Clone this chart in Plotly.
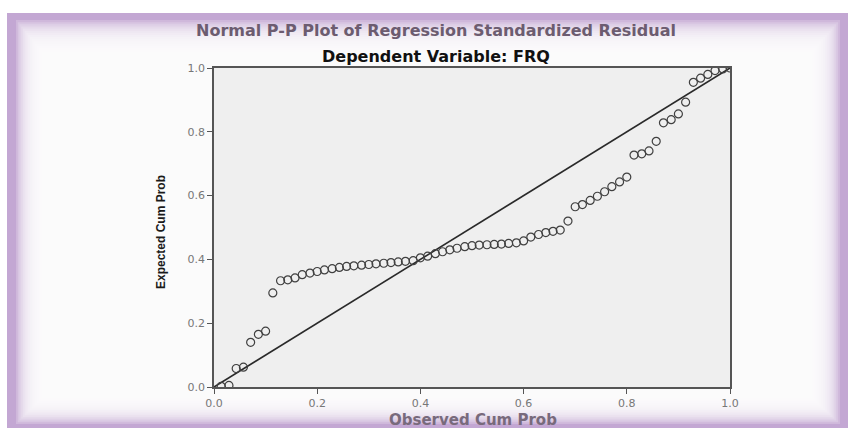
import plotly.graph_objects as go

# ---------------- data ----------------
observed_cum_prob = [
    0.014, 0.029, 0.043, 0.057, 0.071, 0.086, 0.100, 0.114, 0.129, 0.143,
    0.157, 0.171, 0.186, 0.200, 0.214, 0.229, 0.243, 0.257, 0.271, 0.286,
    0.300, 0.314, 0.329, 0.343, 0.357, 0.371, 0.386, 0.400, 0.414, 0.429,
    0.443, 0.457, 0.471, 0.486, 0.500, 0.514, 0.529, 0.543, 0.557, 0.571,
    0.586, 0.600, 0.614, 0.629, 0.643, 0.657, 0.671, 0.686, 0.700, 0.714,
    0.729, 0.743, 0.757, 0.771, 0.786, 0.800, 0.814, 0.829, 0.843, 0.857,
    0.871, 0.886, 0.900, 0.914, 0.929, 0.943, 0.957, 0.971, 0.986, 1.000,
]
expected_cum_prob = [
    0.002, 0.005, 0.058, 0.062, 0.140, 0.165, 0.175, 0.295, 0.333, 0.336,
    0.342, 0.352, 0.357, 0.362, 0.367, 0.371, 0.375, 0.378, 0.380, 0.382,
    0.384, 0.386, 0.388, 0.390, 0.392, 0.394, 0.396, 0.405, 0.410, 0.418,
    0.424, 0.430, 0.435, 0.440, 0.443, 0.445, 0.446, 0.447, 0.448, 0.450,
    0.452, 0.458, 0.470, 0.478, 0.484, 0.488, 0.492, 0.520, 0.565, 0.572,
    0.585, 0.598, 0.612, 0.628, 0.643, 0.658, 0.727, 0.731, 0.740, 0.770,
    0.828, 0.838, 0.856, 0.893, 0.955, 0.968, 0.980, 0.992, 0.997, 1.000,
]
reference_line = [0.0, 1.0]
tick_values = [0.0, 0.2, 0.4, 0.6, 0.8, 1.0]
tick_labels = ["0.0", "0.2", "0.4", "0.6", "0.8", "1.0"]

main_title = "Normal P-P Plot of Regression Standardized Residual"
sub_title = "Dependent Variable: FRQ"
x_title = "Observed Cum Prob"
y_title = "Expected Cum Prob"

# ---------------- layout geometry (pixels) ----------------
W, H = 853, 430
L, R, T, B = 214, 730, 68, 387  # plot area in pixels


def px(xp):
    return (xp - L) / (R - L)


def py(yp):
    return (B - yp) / (B - T)


fig = go.Figure()

fig.add_trace(go.Scatter(
    x=reference_line, y=reference_line, mode="lines",
    line=dict(color="#2a2a2a", width=1.6), hoverinfo="skip", showlegend=False,
))
fig.add_trace(go.Scatter(
    x=observed_cum_prob, y=expected_cum_prob, mode="markers",
    marker=dict(symbol="circle-open", size=8, color="#404040",
                line=dict(width=1.2, color="#404040")),
    showlegend=False,
))

shapes = []
# purple frame
purple = "#c3a7d3"
shapes.append(dict(type="rect", xref="paper", yref="paper", layer="below",
                   x0=px(7), x1=px(848), y0=py(13), y1=py(428),
                   fillcolor=purple, line=dict(width=0)))
# soft white glow inside frame
steps = 16
for k in range(steps):
    f = k / (steps - 1)
    lft = 16 + 26 * f
    top = 20 + 32 * f
    rgt = 840 - 28 * f
    bot = 424 - 26 * f
    shapes.append(dict(type="rect", xref="paper", yref="paper", layer="below",
                       x0=px(lft), x1=px(rgt), y0=py(top), y1=py(bot),
                       fillcolor="rgba(255,255,255,0.2)", line=dict(width=0)))
# plot area background
shapes.append(dict(type="rect", xref="x", yref="y", layer="below",
                   x0=0, x1=1, y0=0, y1=1,
                   fillcolor="#efefef", line=dict(width=0)))

annotations = [
    dict(text="<b>" + main_title + "</b>", xref="paper", yref="paper",
         x=px(436), y=py(31), showarrow=False, xanchor="center", yanchor="middle",
         font=dict(family="DejaVu Sans", size=16, color="#6c5c70")),
    dict(text="<b>" + sub_title + "</b>", xref="paper", yref="paper",
         x=px(436), y=py(56), showarrow=False, xanchor="center", yanchor="middle",
         font=dict(family="DejaVu Sans", size=16, color="#111111")),
    dict(text="<b>" + x_title + "</b>", xref="paper", yref="paper",
         x=px(473), y=py(420), showarrow=False, xanchor="center", yanchor="middle",
         font=dict(family="DejaVu Sans", size=15, color="#786a7c")),
    dict(text="<b>" + y_title + "</b>", xref="paper", yref="paper",
         x=px(161), y=py(232), showarrow=False, xanchor="center", yanchor="middle",
         textangle=-90,
         font=dict(family="Liberation Sans", size=12, color="#1a1a1a")),
]

axis_common = dict(
    range=[0, 1], tickmode="array", tickvals=tick_values, ticktext=tick_labels,
    showgrid=False, zeroline=False, showline=True, mirror=True,
    linecolor="#555555", linewidth=1.6, ticks="outside", ticklen=5,
    tickcolor="#555555", tickwidth=1.2,
    tickfont=dict(family="DejaVu Sans", size=11, color="#777777"),
    fixedrange=True,
)

fig.update_layout(
    width=W, height=H,
    margin=dict(l=L, r=W - R, t=T, b=H - B, pad=0),
    paper_bgcolor="white", plot_bgcolor="rgba(0,0,0,0)",
    xaxis=dict(**axis_common),
    yaxis=dict(**axis_common),
    shapes=shapes, annotations=annotations,
    showlegend=False,
)

fig.write_html("out.html")
